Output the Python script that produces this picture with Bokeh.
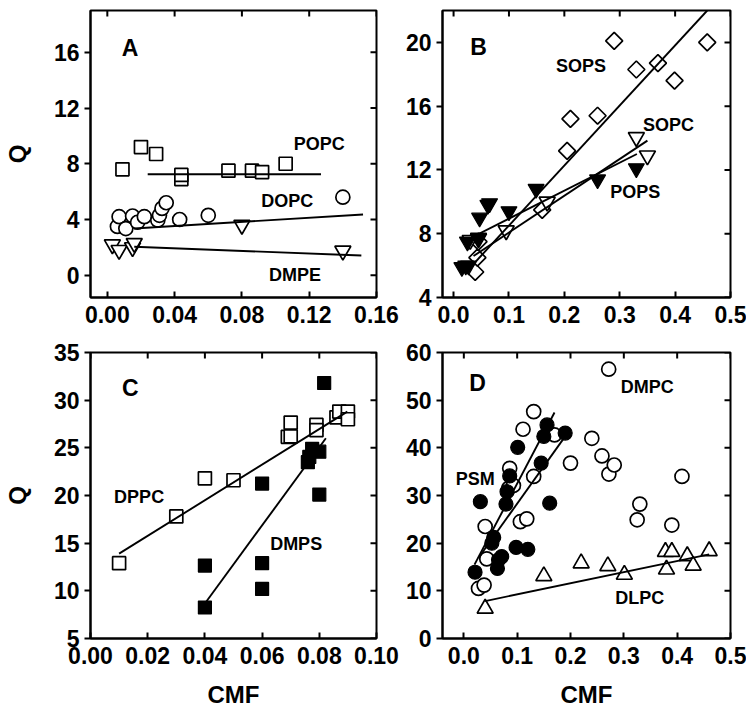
import numpy as np
from bokeh.plotting import figure
from bokeh.models import Range1d, FixedTicker, Label, NumeralTickFormatter
from bokeh.layouts import gridplot
from bokeh.embed import file_html
from bokeh.resources import INLINE

FONT = "Liberation Sans"

# ---------------- Panel A ----------------
popc_x = [0.009, 0.020, 0.029, 0.044, 0.044, 0.072, 0.086, 0.092, 0.106]
popc_y = [7.6, 9.2, 8.7, 6.9, 7.2, 7.5, 7.5, 7.4, 8.0]
popc_fit_x = [0.024, 0.127]
popc_fit_y = [7.25, 7.25]
dopc_x = [0.006, 0.007, 0.011, 0.015, 0.018, 0.022, 0.030, 0.031, 0.0325, 0.035, 0.043, 0.060, 0.140]
dopc_y = [3.5, 4.2, 3.35, 4.25, 3.8, 4.2, 3.95, 4.3, 4.8, 5.2, 4.0, 4.3, 5.6]
dopc_fit_x = [0.016, 0.152]
dopc_fit_y = [3.35, 4.36]
dmpe_x = [0.003, 0.007, 0.015, 0.016, 0.080, 0.140]
dmpe_y = [2.2, 1.8, 2.0, 2.3, 3.6, 1.75]
dmpe_fit_x = [0.016, 0.151]
dmpe_fit_y = [2.04, 1.41]

# ---------------- Panel B ----------------
sops_x = [0.039, 0.043, 0.045, 0.160, 0.205, 0.211, 0.260, 0.290, 0.330, 0.369, 0.399, 0.458]
sops_y = [5.6, 6.5, 7.5, 9.5, 13.2, 15.2, 15.4, 20.1, 18.3, 18.7, 17.6, 20.0]
sops_fit_x = [0.036, 0.458]
sops_fit_y = [6.1, 22.0]
sopc_x = [0.030, 0.045, 0.095, 0.169, 0.330, 0.350]
sopc_y = [7.6, 7.7, 8.2, 10.0, 14.05, 12.9]
sopc_fit_x = [0.036, 0.350]
sopc_fit_y = [6.6, 13.84]
pops_x = [0.015, 0.022, 0.027, 0.025, 0.045, 0.047, 0.062, 0.065, 0.100, 0.149, 0.260, 0.330]
pops_y = [5.9, 6.0, 6.0, 7.5, 7.75, 9.0, 9.8, 9.9, 9.4, 10.8, 11.4, 12.1]
pops_fit_x = [0.021, 0.331]
pops_fit_y = [7.56, 13.0]

# ---------------- Panel C ----------------
dppc_x = [0.010, 0.030, 0.040, 0.050, 0.069, 0.070, 0.070, 0.079, 0.079, 0.086, 0.087, 0.090, 0.090]
dppc_y = [12.9, 17.8, 21.8, 21.6, 26.15, 26.2, 27.65, 27.4, 26.85, 28.2, 28.8, 28.8, 28.0]
dppc_fit_x = [0.010, 0.0898]
dppc_fit_y = [13.9, 28.8]
dmps_x = [0.040, 0.040, 0.060, 0.060, 0.060, 0.076, 0.0765, 0.0775, 0.080, 0.080, 0.0817]
dmps_y = [8.25, 12.65, 21.25, 12.9, 10.2, 23.5, 24.05, 24.9, 24.6, 20.1, 31.8]
dmps_fit_x = [0.040, 0.0823]
dmps_fit_y = [8.67, 26.0]

# ---------------- Panel D ----------------
dmpc_x = [0.0275, 0.038, 0.043, 0.040, 0.084, 0.093, 0.086, 0.106, 0.118, 0.111, 0.131, 0.131,
          0.170, 0.200, 0.240, 0.259, 0.272, 0.2716, 0.282, 0.325, 0.330, 0.390, 0.409]
dmpc_y = [10.5, 11.2, 16.7, 23.5, 31.5, 32.1, 35.7, 24.5, 25.1, 43.9, 47.6, 34.0,
          42.7, 36.8, 42.0, 38.3, 34.5, 56.5, 36.4, 24.9, 28.2, 23.8, 34.0]
dmpc_fit_x = [0.028, 0.190]
dmpc_fit_y = [17.0, 42.4]
psm_x = [0.021, 0.031, 0.0525, 0.056, 0.063, 0.065, 0.071, 0.079, 0.081, 0.086, 0.098, 0.101,
         0.120, 0.145, 0.150, 0.156, 0.161, 0.190]
psm_y = [13.9, 28.7, 20.0, 21.2, 14.7, 16.5, 17.2, 28.2, 30.8, 34.1, 19.1, 40.1,
         18.7, 36.8, 42.4, 44.8, 28.4, 43.1]
psm_fit_x = [0.020, 0.170]
psm_fit_y = [15.5, 47.4]
dlpc_x = [0.040, 0.150, 0.220, 0.270, 0.301, 0.378, 0.390, 0.380, 0.419, 0.430, 0.460]
dlpc_y = [6.3, 13.1, 15.8, 15.2, 13.4, 18.2, 18.2, 14.5, 17.3, 15.3, 18.35]
dlpc_fit_x = [0.040, 0.460]
dlpc_fit_y = [7.85, 17.65]

# tick values
a_xticks = [0.0, 0.04, 0.08, 0.12, 0.16]
a_yticks = [0, 4, 8, 12, 16]
b_xticks = [0.0, 0.1, 0.2, 0.3, 0.4, 0.5]
b_yticks = [4, 8, 12, 16, 20]
c_xticks = [0.0, 0.02, 0.04, 0.06, 0.08, 0.10]
c_yticks = [5, 10, 15, 20, 25, 30, 35]
d_xticks = [0.0, 0.1, 0.2, 0.3, 0.4, 0.5]
d_yticks = [0, 10, 20, 30, 40, 50, 60]

TICK_FONT = "23px"
AXLBL_FONT = "24px"


def make_panel(width, height, borders, xr, yr, xticks, yticks, xfmt, ylabel=None, xlabel=None):
    left, right, top, bottom = borders
    p = figure(width=width, height=height, x_range=Range1d(*xr), y_range=Range1d(*yr),
               output_backend="svg", toolbar_location=None,
               min_border_left=left, min_border_right=right,
               min_border_top=top, min_border_bottom=bottom)
    p.xgrid.visible = False
    p.ygrid.visible = False
    p.outline_line_color = "black"
    p.outline_line_width = 2
    p.background_fill_color = "white"
    p.border_fill_color = "white"

    for ax in (p.xaxis[0], p.yaxis[0]):
        ax.axis_line_width = 2
        ax.axis_line_color = "black"
        ax.major_tick_line_width = 2
        ax.major_tick_line_color = "black"
        ax.minor_tick_line_color = None
        ax.major_label_text_font = FONT
        ax.major_label_text_font_style = "bold"
        ax.major_label_text_font_size = TICK_FONT
        ax.major_label_text_color = "black"
        ax.axis_label_text_font = FONT
        ax.axis_label_text_font_style = "bold"
        ax.axis_label_text_font_size = AXLBL_FONT
        ax.axis_label_text_color = "black"

    xa = p.xaxis[0]
    xa.ticker = FixedTicker(ticks=xticks)
    xa.formatter = NumeralTickFormatter(format=xfmt)
    xa.major_tick_in = 6
    xa.major_tick_out = 0
    xa.major_label_standoff = 8
    if xlabel:
        xa.axis_label = xlabel
        xa.axis_label_standoff = 14

    ya = p.yaxis[0]
    ya.ticker = FixedTicker(ticks=yticks)
    ya.formatter = NumeralTickFormatter(format="0")
    ya.major_tick_in = 0
    ya.major_tick_out = 6
    ya.major_label_standoff = 5
    if ylabel:
        ya.axis_label = ylabel
        ya.axis_label_standoff = 20

    # mirrored inward ticks on the top and right edges of the frame
    n_x = len(xticks)
    n_y = len(yticks)
    p.ray(x=xticks, y=[yr[1]] * n_x, length=6, length_units="screen", angle=-np.pi / 2,
          line_color="black", line_width=2)
    p.ray(x=[xr[1]] * n_y, y=yticks, length=6, length_units="screen", angle=np.pi,
          line_color="black", line_width=2)
    return p


def tag(p, x, y, text, size="18px"):
    p.add_layout(Label(x=x, y=y, text=text, text_font=FONT, text_font_style="bold",
                       text_font_size=size, text_align="center", text_baseline="middle",
                       text_color="black"))


def open_pts(p, x, y, marker, size, angle=0.0):
    p.scatter(x, y, marker=marker, size=size, angle=angle, fill_color="white",
              line_color="black", line_width=1.7)


def filled_pts(p, x, y, marker, size):
    p.scatter(x, y, marker=marker, size=size, fill_color="black",
              line_color="black", line_width=1.2)


def fit(p, x, y):
    p.line(x, y, line_color="black", line_width=1.9)


H_TOP = 336
H_BOT = 386
W_LEFT = 400
W_RIGHT = 346

# Panel A
pa = make_panel(W_LEFT, H_TOP, (88, 24, 10, 39), (-0.01, 0.16), (-1.6, 19.0), a_xticks, a_yticks, "0.00", ylabel="Q")
open_pts(pa, popc_x, popc_y, "square", 13)
open_pts(pa, dopc_x, dopc_y, "circle", 14)
open_pts(pa, dmpe_x, dmpe_y, "inverted_triangle", 16)
fit(pa, popc_fit_x, popc_fit_y)
fit(pa, dopc_fit_x, dopc_fit_y)
fit(pa, dmpe_fit_x, dmpe_fit_y)
tag(pa, 0.0135, 16.3, "A", "23px")
tag(pa, 0.126, 9.42, "POPC")
tag(pa, 0.107, 5.35, "DOPC")
tag(pa, 0.1115, 0.0, "DMPE")

# Panel B
pb = make_panel(W_RIGHT, H_TOP, (42, 16, 10, 39), (-0.02, 0.5), (4.0, 22.0), b_xticks, b_yticks, "0.0")
open_pts(pb, sops_x, sops_y, "square", 12, angle=np.pi / 4)
open_pts(pb, sopc_x, sopc_y, "inverted_triangle", 16)
filled_pts(pb, pops_x, pops_y, "inverted_triangle", 16)
fit(pb, sops_fit_x, sops_fit_y)
fit(pb, sopc_fit_x, sopc_fit_y)
fit(pb, pops_fit_x, pops_fit_y)
tag(pb, 0.045, 19.7, "B", "23px")
tag(pb, 0.23, 18.55, "SOPS")
tag(pb, 0.388, 14.85, "SOPC")
tag(pb, 0.328, 10.6, "POPS")

# Panel C
pc = make_panel(W_LEFT, H_BOT, (88, 24, 16, 84), (0.0, 0.1), (5.0, 35.0), c_xticks, c_yticks, "0.00",
                ylabel="Q", xlabel="CMF")
open_pts(pc, dppc_x, dppc_y, "square", 13)
filled_pts(pc, dmps_x, dmps_y, "square", 13)
fit(pc, dppc_fit_x, dppc_fit_y)
fit(pc, dmps_fit_x, dmps_fit_y)
tag(pc, 0.0139, 31.26, "C", "23px")
tag(pc, 0.017, 19.85, "DPPC")
tag(pc, 0.0719, 14.96, "DMPS")

# Panel D
pd_ = make_panel(W_RIGHT, H_BOT, (42, 16, 16, 84), (-0.04, 0.5), (0.0, 60.0), d_xticks, d_yticks, "0.0",
                 xlabel="CMF")
open_pts(pd_, dmpc_x, dmpc_y, "circle", 14)
filled_pts(pd_, psm_x, psm_y, "circle", 14)
open_pts(pd_, dlpc_x, dlpc_y, "triangle", 16)
fit(pd_, dmpc_fit_x, dmpc_fit_y)
fit(pd_, psm_fit_x, psm_fit_y)
fit(pd_, dlpc_fit_x, dlpc_fit_y)
tag(pd_, 0.0257, 53.6, "D", "23px")
tag(pd_, 0.344, 52.7, "DMPC")
tag(pd_, 0.0214, 33.4, "PSM")
tag(pd_, 0.33, 8.4, "DLPC")

grid = gridplot([[pa, pb], [pc, pd_]], toolbar_location=None)

open("out.html", "w").write(file_html(grid, INLINE))
